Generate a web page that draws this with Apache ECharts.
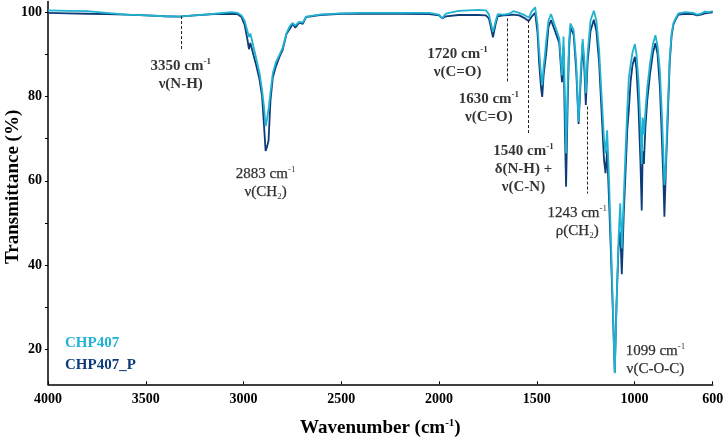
<!DOCTYPE html>
<html>
<head>
<meta charset="utf-8">
<script src="https://cdn.jsdelivr.net/npm/echarts@6/dist/echarts.min.js"></script>
<style>html,body{margin:0;padding:0;background:#fff}#c{width:726px;height:437px}</style>
</head>
<body>
<div id="c"></div>
<script>
// wavenumber (cm-1), shared by both spectra
const wavenumber = [4000,3900,3800,3700,3600,3500,3400,3330,3250,3150,3060,3030,3010,2994,2980,2972,2965,2950,2935,2918,2905,2895,2887,2880,2872,2862,2850,2835,2815,2800,2780,2762,2748,2735,2715,2697,2680,2610,2500,2400,2200,2050,2000,1984,1965,1900,1800,1760,1745,1735,1724,1712,1700,1670,1640,1620,1590,1560,1541,1525,1508,1496,1488,1478,1472,1465,1460,1452,1440,1427,1405,1385,1371,1363,1356,1350,1342,1335,1328,1311,1298,1286,1275,1265,1256,1249,1240,1225,1208,1195,1181,1168,1156,1148,1140,1130,1120,1110,1101,1092,1082,1073,1065,1055,1045,1037,1029,1020,1010,998,990,980,970,963,958,952,945,935,920,905,893,882,870,860,852,847,840,832,820,810,800,790,775,740,700,680,660,640,620,600];
// transmittance (%) CHP407
const chp407 = [100.4,100.3,100.2,99.8,99.4,99.2,99.0,98.9,99.2,99.6,100.0,99.8,99.2,97.9,95.5,94.1,94.9,92.0,89.0,85.5,81.5,77.5,73.0,74.5,77.0,81.0,85.5,88.0,90.0,91.5,95.0,96.8,97.4,96.8,97.7,97.5,98.9,99.4,99.7,99.8,99.8,99.8,99.4,98.5,99.6,100.3,100.5,100.4,99.5,97.5,95.3,97.5,99.5,99.4,99.6,100.2,99.8,99.2,98.7,100.2,101.1,97.0,91.0,85.0,82.7,87.0,89.0,93.0,98.0,99.5,96.5,93.8,85.0,94.2,80.0,66.5,82.0,93.0,97.3,95.7,88.0,74.0,86.0,93.6,88.0,80.8,90.0,98.0,100.3,98.0,91.0,80.0,70.0,66.5,72.0,60.0,45.0,29.0,14.4,30.0,46.0,54.7,44.0,56.0,68.0,77.0,84.4,87.5,90.5,92.4,90.0,84.0,74.0,64.0,75.0,71.0,76.0,82.0,88.0,92.5,94.5,92.0,86.0,76.0,66.0,59.0,64.0,75.0,89.0,95.0,97.5,98.5,99.7,100.0,99.8,99.4,99.6,100.1,100.0,100.2];
// transmittance (%) CHP407_P
const chp407P = [99.8,99.7,99.6,99.5,99.4,99.2,99.0,98.9,99.2,99.5,99.6,99.5,98.8,96.9,93.5,91.2,92.7,90.0,87.4,84.0,80.0,73.0,67.1,68.0,69.5,79.0,84.5,87.0,89.5,91.0,94.8,96.1,97.2,96.3,97.5,97.2,98.8,99.3,99.6,99.6,99.6,99.5,99.2,98.5,99.0,99.3,99.3,99.2,98.5,96.5,94.0,96.8,99.0,99.2,99.3,99.4,99.2,98.5,97.9,99.0,99.8,95.0,88.0,82.0,79.9,85.0,87.0,90.0,96.5,98.1,95.3,92.7,83.4,91.8,72.0,58.6,78.0,91.0,96.4,94.5,86.0,73.5,84.0,92.6,86.0,78.0,88.0,95.5,98.2,95.5,88.0,76.0,65.0,61.8,67.3,55.0,42.0,28.0,14.6,31.0,44.0,48.0,37.9,52.0,63.0,72.0,76.8,83.5,87.5,89.4,86.5,78.0,65.0,53.0,67.0,64.0,72.0,79.0,85.5,90.5,92.6,90.0,82.0,70.0,60.0,51.5,62.0,72.0,88.0,94.5,97.2,98.2,99.4,99.6,99.5,99.2,99.4,99.7,99.8,99.9];

const seriesNames = ['CHP407', 'CHP407_P'];
const xTickValues = [4000,3500,3000,2500,2000,1500,1000,600];
const yLabelValues = [20,40,60,80,100];
const yTickValues = [20,30,40,50,60,70,80,90,100];

// dashed guide lines: [wavenumber, T from, T to]
const guideLines = [[3320,99.05,91.0],[1651,98.5,83.5],[1541,98.1,70.9],[1243,77.6,57.0]];
// annotation blocks: [wavenumber, T, text]
const annotations = [
  [3321,85.0,'{b|3350 cm}{bs|-1}\n{b|ν(N-H)}'],
  [2887,59.4,'{r|2883 cm}{rs|-1}\n{r|ν(CH}{rsub|2}{r|)}'],
  [1905,88.0,'{b|1720 cm}{bs|-1}\n{b|ν(C=O)}'],
  [1745,77.2,'{b|1630 cm}{bs|-1}\n{b|ν(C=O)}'],
  [1568,62.8,'{b|1540 cm}{bs|-1}\n{b|δ(N-H) +}\n{b|ν(C-N)}'],
  [1293,50.3,'{r|1243 cm}{rs|-1}\n{r|ρ(CH}{rsub|2}{r|)}'],
  [893,17.45,'{r|1099 cm}{rs|-1}\n{r|ν(C-O-C)}']
];

const LIGHT = '#1fb2d3';
const DARK = '#0d3c78';
const SERIF = '"Liberation Serif", "DejaVu Serif", serif';
const INK = '#000';

const pairs = arr => wavenumber.map((w, i) => [w, arr[i]]);

const base = {fontFamily: SERIF, color: INK, textBorderWidth: 0, textShadowBlur: 0};
const rich = {
  b: Object.assign({}, base, {fontWeight: 'bold', fontSize: 15, lineHeight: 18}),
  bs: Object.assign({}, base, {fontWeight: 'bold', fontSize: 9, lineHeight: 10, verticalAlign: 'top'}),
  r: Object.assign({}, base, {fontSize: 15, lineHeight: 18, textBorderColor: '#000', textBorderWidth: 0.25}),
  rs: Object.assign({}, base, {fontSize: 9, lineHeight: 10, verticalAlign: 'top'}),
  rsub: Object.assign({}, base, {fontSize: 9, lineHeight: 10, verticalAlign: 'bottom'})
};

const chart = echarts.init(document.getElementById('c'));
chart.setOption({
  animation: false,
  backgroundColor: '#fff',
  grid: {left: 48, right: 13.3, top: 1.5, bottom: 52.7, containLabel: false, outerBoundsMode: 'none'},
  legend: {
    orient: 'vertical', left: 55, top: 331, icon: 'none', itemWidth: 0, itemGap: 7,
    data: [
      {name: seriesNames[0], textStyle: {color: LIGHT}},
      {name: seriesNames[1], textStyle: {color: DARK}}
    ],
    textStyle: {fontFamily: SERIF, fontWeight: 'bold', fontSize: 15}
  },
  xAxis: {
    type: 'value', inverse: true, min: 600, max: 4000,
    splitLine: {show: false},
    axisLine: {lineStyle: {color: '#000', width: 1.5}},
    axisTick: {inside: true, length: 3, customValues: xTickValues, lineStyle: {color: '#000'}},
    axisLabel: {customValues: xTickValues, margin: 8, color: '#000', fontFamily: SERIF, fontWeight: 'bold', fontSize: 14, formatter: v => String(v)},
    name: '{t|Wavenumber (cm}{ts|-1}{t|)}',
    nameLocation: 'middle', nameGap: 33,
    nameTextStyle: {rich: {
      t: {fontFamily: SERIF, fontWeight: 'bold', fontSize: 19, lineHeight: 22, color: '#000'},
      ts: {fontFamily: SERIF, fontWeight: 'bold', fontSize: 11, lineHeight: 12, verticalAlign: 'top', color: '#000'}
    }}
  },
  yAxis: {
    type: 'value', min: 11.8, max: 102.5,
    splitLine: {show: false},
    axisLine: {show: true, lineStyle: {color: '#000', width: 1.5}},
    axisTick: {show: true, length: 3, customValues: yTickValues, lineStyle: {color: '#000'}},
    axisLabel: {customValues: yLabelValues, margin: 6, color: '#000', fontFamily: SERIF, fontWeight: 'bold', fontSize: 14, formatter: v => String(v)},
    name: 'Transmittance (%)',
    nameLocation: 'middle', nameGap: 25, nameMoveOverlap: false,
    nameTextStyle: {fontFamily: SERIF, fontWeight: 'bold', fontSize: 19, color: '#000', padding: [0, 0, 0, 12]}
  },
  series: [
    {
      name: seriesNames[1], type: 'line', data: pairs(chp407P), showSymbol: false, z: 2,
      lineStyle: {color: DARK, width: 1.8}, itemStyle: {color: DARK},
      markLine: {
        silent: true, symbol: 'none', label: {show: false},
        lineStyle: {color: '#222', type: [3, 2], width: 1},
        data: guideLines.map(g => [{coord: [g[0], g[1]]}, {coord: [g[0], g[2]]}])
      }
    },
    {
      name: seriesNames[0], type: 'line', data: pairs(chp407), showSymbol: false, z: 3,
      lineStyle: {color: LIGHT, width: 1.8}, itemStyle: {color: LIGHT}
    },
    {
      name: 'notes', type: 'scatter', symbolSize: 0, silent: true, z: 5,
      itemStyle: {color: INK},
      data: annotations.map(a => ({value: [a[0], a[1]], text: a[2]})),
      label: {
        show: true, position: 'inside', align: 'center', verticalAlign: 'middle',
        color: INK, textBorderWidth: 0,
        formatter: p => p.data.text, rich: rich
      }
    }
  ]
});
</script>
</body>
</html>
